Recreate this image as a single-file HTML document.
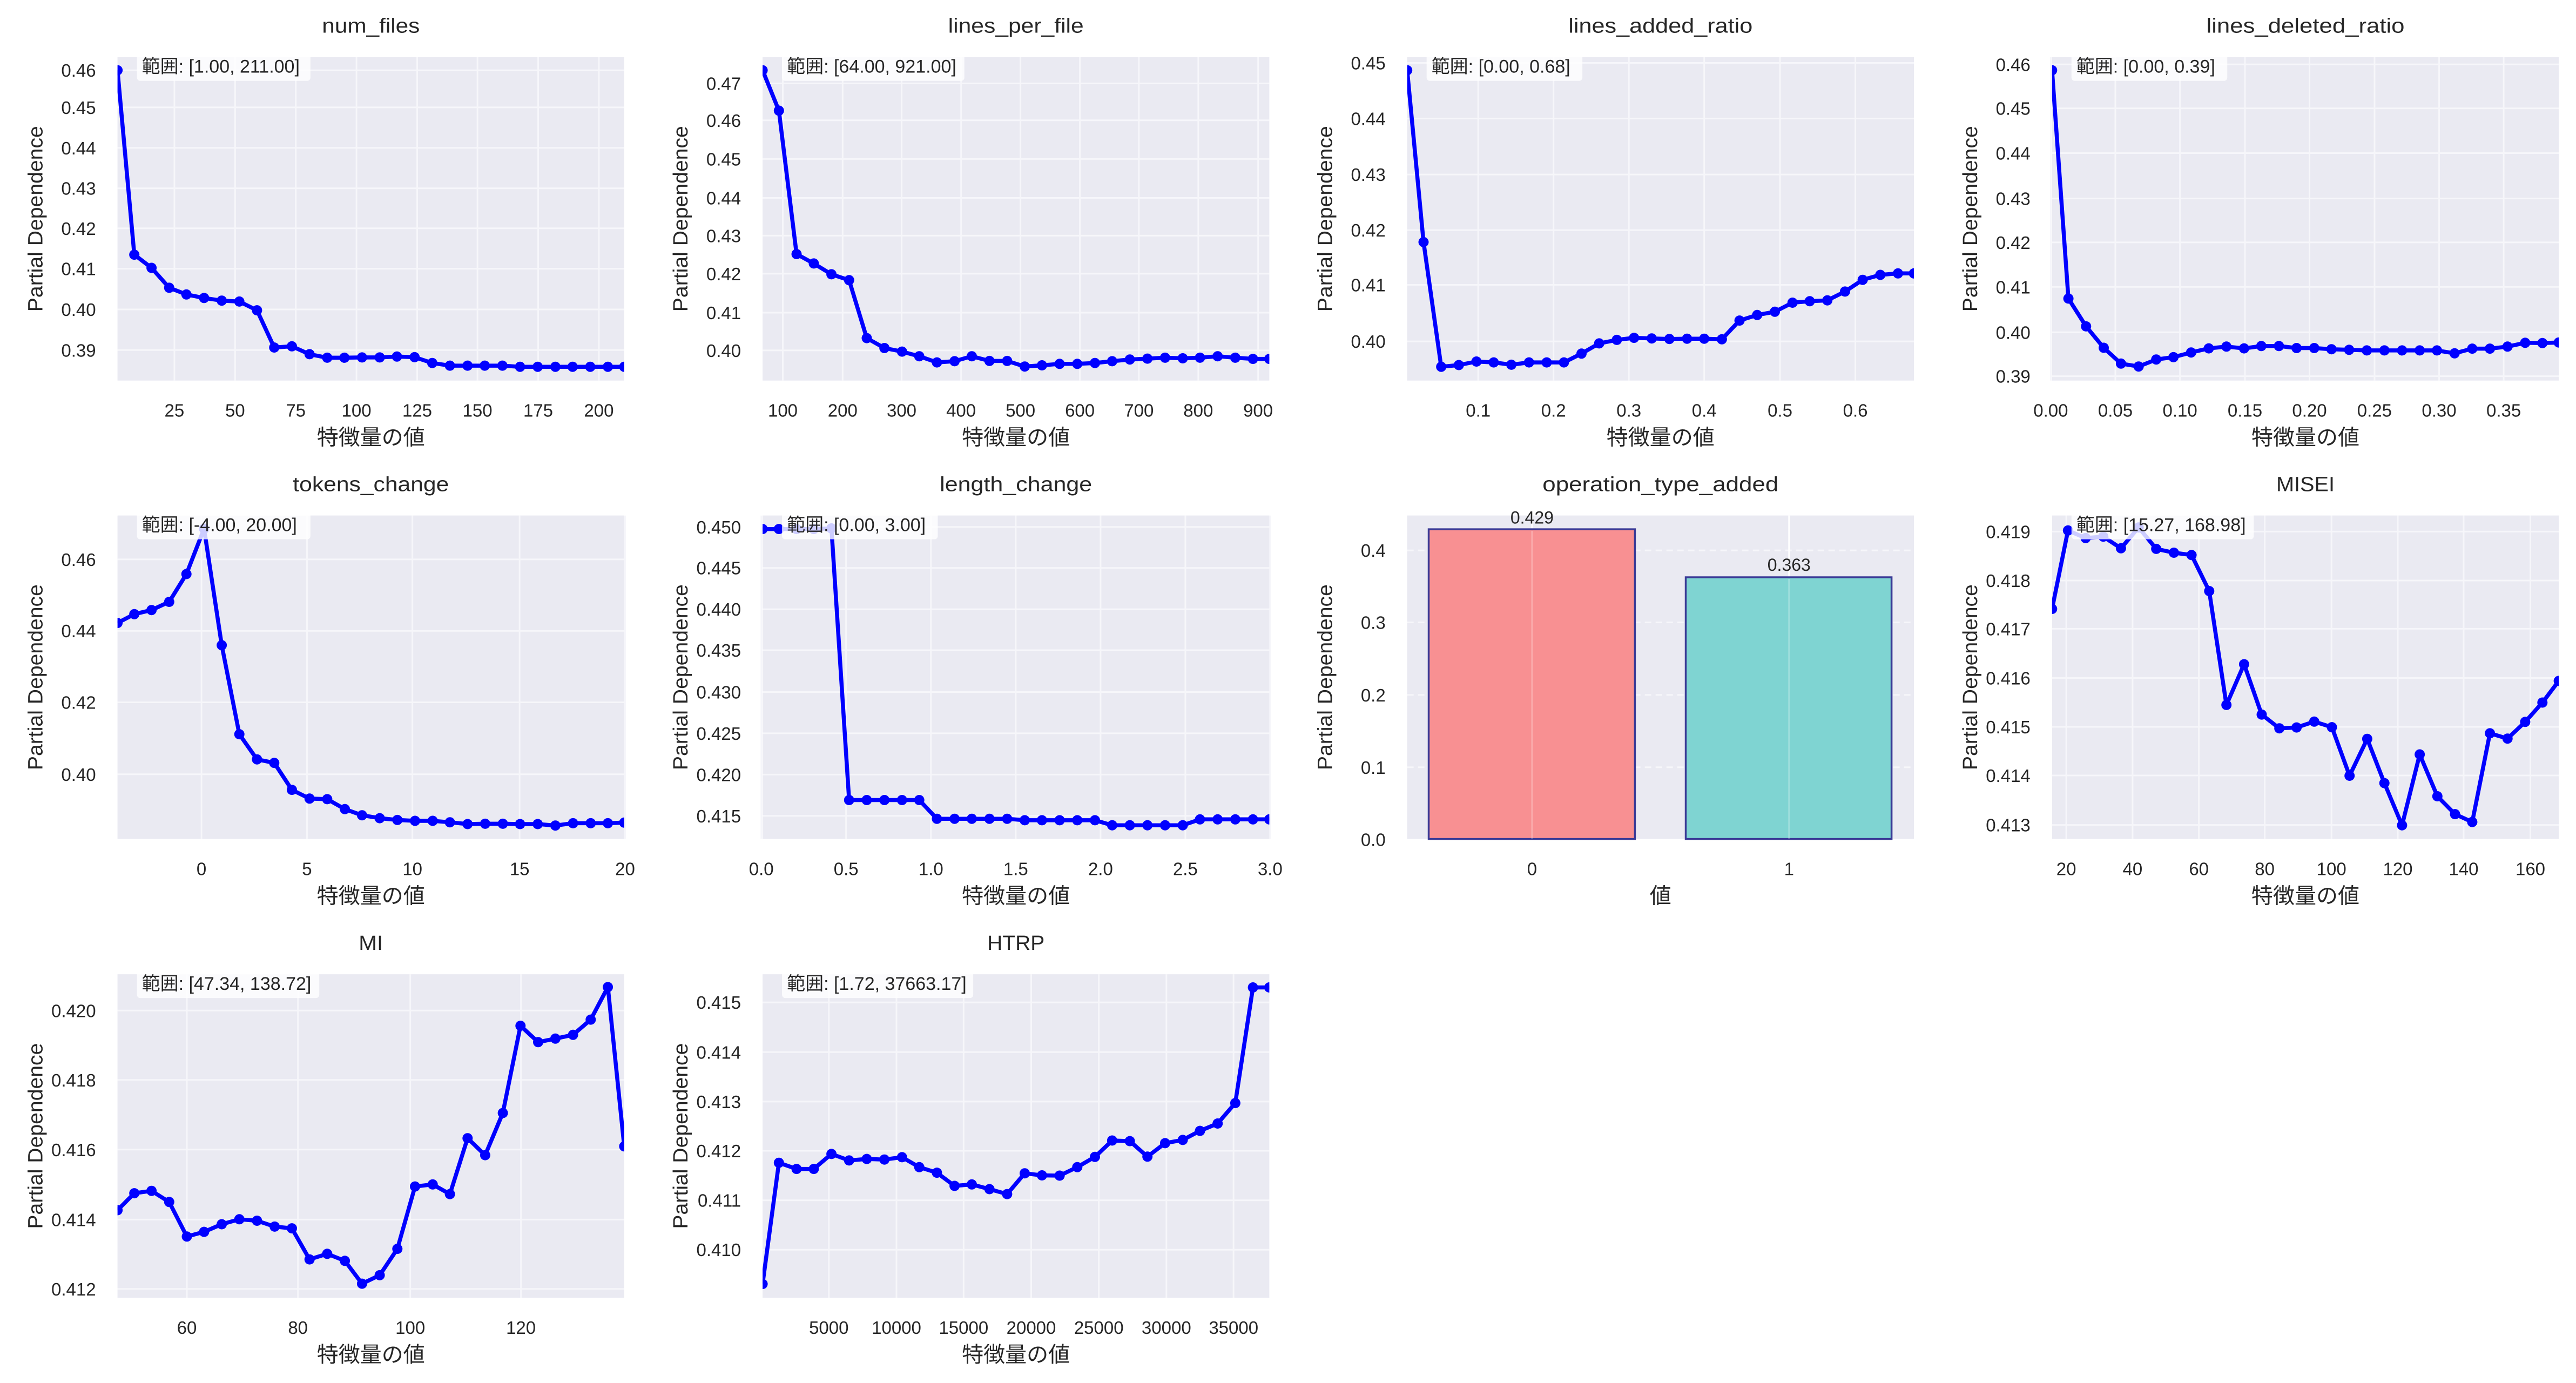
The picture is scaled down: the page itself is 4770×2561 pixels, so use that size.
<!DOCTYPE html>
<html><head><meta charset="utf-8">
<style>
html,body{margin:0;padding:0;background:#fff;}
svg{display:block;}
text{font-family:"Liberation Sans","Noto Sans CJK JP",sans-serif;fill:#262626;}
</style></head>
<body>
<svg id="s" xmlns="http://www.w3.org/2000/svg" width="4770" height="2561" viewBox="0 0 4770 2561"></svg>
<script>
const KX=1250/1568, KY=850/1568;
const P=[
{X0:0,Y0:0,box:[273,195,1450,1300],title:"num_files",tl:181,ann:"範囲: [1.00, 211.00]",
yt:[["0.46",240],["0.45",367],["0.44",505],["0.43",643],["0.42",780],["0.41",918],["0.40",1057],["0.39",1196]],
xt:[["25",405],["50",546],["75",687],["100",828],["125",969],["150",1109],["175",1250],["200",1391]],
pts:[[273,240],[312,870],[352,915],[393,983],[433,1006],[474,1018],[515,1027],[556,1030],[597,1060],[637,1187],[678,1183],[719,1210],[760,1222],[800,1222],[841,1221],[882,1221],[922,1218],[963,1220],[1004,1240],[1045,1249],[1086,1249],[1126,1249],[1167,1249],[1208,1253],[1249,1253],[1290,1253],[1330,1253],[1371,1253],[1412,1253],[1450,1253]]},
{X0:1200,Y0:0,box:[266,195,1443,1300],title:"lines_per_file",tl:251,ann:"範囲: [64.00, 921.00]",
yt:[["0.47",285],["0.46",411],["0.45",543],["0.44",676],["0.43",805],["0.42",935],["0.41",1068],["0.40",1197]],
xt:[["100",313],["200",452],["300",589],["400",727],["500",865],["600",1003],["700",1140],["800",1278],["900",1417]],
pts:[[266,240],[304,378],[345,868],[385,900],[426,937],[467,957],[508,1155],[549,1189],[590,1201],[630,1217],[671,1238],[712,1234],[752,1217],[793,1233],[834,1233],[875,1252],[915,1248],[956,1243],[997,1243],[1038,1240],[1078,1234],[1119,1228],[1160,1225],[1201,1222],[1242,1224],[1282,1222],[1323,1217],[1364,1222],[1405,1226],[1443,1226]]},
{X0:2400,Y0:0,box:[258,195,1435,1300],title:"lines_added_ratio",tl:341,ann:"範囲: [0.00, 0.68]",
yt:[["0.45",215],["0.44",405],["0.43",596],["0.42",786],["0.41",973],["0.40",1166]],
xt:[["0.1",423],["0.2",598],["0.3",773],["0.4",948],["0.5",1124],["0.6",1299]],
pts:[[258,240],[296,827],[337,1253],[378,1247],[419,1235],[459,1238],[500,1246],[541,1238],[582,1238],[622,1238],[663,1208],[704,1173],[745,1161],[785,1154],[826,1156],[867,1158],[908,1157],[948,1157],[989,1159],[1030,1095],[1071,1076],[1112,1065],[1153,1034],[1193,1029],[1234,1026],[1275,996],[1316,956],[1357,939],[1398,934],[1435,934]]},
{X0:3520,Y0:0,box:[351,195,1528,1300],title:"lines_deleted_ratio",tl:367,ann:"範囲: [0.00, 0.39]",
yt:[["0.46",220],["0.45",370],["0.44",523],["0.43",678],["0.42",828],["0.41",980],["0.40",1135],["0.39",1285]],
xt:[["0.00",348],["0.05",498],["0.10",648],["0.15",799],["0.20",949],["0.25",1100],["0.30",1250],["0.35",1400]],
pts:[[351,240],[389,1020],[430,1115],[471,1188],[511,1242],[552,1252],[593,1228],[633,1220],[674,1204],[715,1190],[756,1184],[797,1190],[837,1182],[878,1182],[919,1189],[960,1189],[1000,1193],[1041,1195],[1082,1197],[1123,1197],[1164,1197],[1205,1197],[1245,1197],[1286,1207],[1327,1191],[1368,1191],[1409,1184],[1450,1171],[1490,1172],[1528,1170]]},
{X0:0,Y0:850,box:[273,193,1450,1298],title:"tokens_change",tl:289,ann:"範囲: [-4.00, 20.00]",
yt:[["0.46",343],["0.44",587],["0.42",831],["0.40",1077]],
xt:[["0",468],["5",713],["10",958],["15",1207],["20",1452]],
pts:[[273,560],[312,530],[352,516],[393,488],[433,393],[474,238],[515,636],[556,940],[597,1026],[637,1038],[678,1130],[719,1160],[760,1162],[801,1196],[841,1217],[882,1227],[923,1233],[964,1236],[1005,1236],[1045,1241],[1086,1247],[1127,1246],[1168,1246],[1208,1247],[1249,1247],[1290,1252],[1331,1244],[1372,1244],[1412,1244],[1450,1242]]},
{X0:1200,Y0:850,box:[266,193,1443,1298],title:"length_change",tl:282,ann:"範囲: [0.00, 3.00]",
yt:[["0.450",232],["0.445",372],["0.440",513],["0.435",653],["0.430",796],["0.425",937],["0.420",1078],["0.415",1219]],
xt:[["0.0",263],["0.5",460],["1.0",657],["1.5",854],["2.0",1051],["2.5",1248],["3.0",1445]],
pts:[[266,239],[304,239],[345,239],[385,239],[426,237],[467,1165],[508,1165],[549,1165],[590,1165],[630,1165],[671,1229],[712,1229],[752,1229],[793,1229],[834,1229],[875,1234],[915,1234],[956,1234],[997,1234],[1038,1234],[1078,1251],[1119,1251],[1160,1251],[1201,1251],[1242,1251],[1282,1231],[1323,1231],[1364,1231],[1405,1231],[1443,1231]]},
{X0:2400,Y0:850,box:[258,193,1435,1298],title:"operation_type_added",tl:437,bar:true,xlabel:"値",
yt:[["0.4",312],["0.3",558],["0.2",806],["0.1",1053],["0.0",1300]],
xt:[["0",548],["1",1145]]},
{X0:3520,Y0:850,box:[351,193,1528,1298],title:"MISEI",tl:108,ann:"範囲: [15.27, 168.98]",
yt:[["0.419",248],["0.418",415],["0.417",580],["0.416",748],["0.415",915],["0.414",1081],["0.413",1250]],
xt:[["20",384],["40",538],["60",692],["80",845],["100",1000],["120",1154],["140",1307],["160",1462]],
pts:[[351,512],[388,244],[429,270],[470,265],[511,305],[552,234],[593,307],[634,320],[675,328],[716,451],[756,840],[797,701],[838,873],[879,920],[919,917],[960,897],[1001,916],[1042,1082],[1083,956],[1123,1107],[1164,1251],[1205,1009],[1246,1152],[1287,1213],[1327,1240],[1368,937],[1409,955],[1450,898],[1490,832],[1528,758]]},
{X0:0,Y0:1700,box:[273,192,1450,1297],title:"MI",tl:45,ann:"範囲: [47.34, 138.72]",
yt:[["0.420",316],["0.418",553],["0.416",791],["0.414",1030],["0.412",1267]],
xt:[["60",434],["80",692],["100",953],["120",1210]],
pts:[[273,998],[312,940],[352,932],[393,970],[434,1088],[474,1072],[515,1046],[556,1029],[597,1034],[638,1054],[678,1060],[719,1166],[760,1147],[801,1171],[841,1249],[882,1220],[923,1130],[964,917],[1005,910],[1045,943],[1086,752],[1127,810],[1168,666],[1209,368],[1250,424],[1290,412],[1331,399],[1372,347],[1412,236],[1450,780]]},
{X0:1200,Y0:1700,box:[266,192,1443,1297],title:"HTRP",tl:106,ann:"範囲: [1.72, 37663.17]",
yt:[["0.415",288],["0.414",458],["0.413",627],["0.412",795],["0.411",964],["0.410",1133]],
xt:[["5000",420],["10000",577],["15000",733],["20000",890],["25000",1047],["30000",1204],["35000",1360]],
pts:[[266,1250],[304,836],[345,857],[385,857],[426,806],[467,828],[508,823],[549,825],[590,817],[630,851],[671,870],[712,915],[752,910],[793,926],[834,943],[875,872],[915,879],[956,880],[997,851],[1038,816],[1078,760],[1119,762],[1160,815],[1201,769],[1242,758],[1282,727],[1323,702],[1364,632],[1405,237],[1443,237]]}
];
let o='';
const f=v=>v.toFixed(1);
P.forEach((p,i)=>{
 const X=zx=>p.X0+zx*KX, Y=zy=>p.Y0+zy*KY;
 const l=X(p.box[0]),t=Y(p.box[1]),r=X(p.box[2]),b=Y(p.box[3]);
 const cx=(l+r)/2, cy=(t+b)/2;
 o+=`<defs><clipPath id="c${i}"><rect x="${f(l)}" y="${f(t)}" width="${f(r-l)}" height="${f(b-t)}"/></clipPath></defs>`;
 o+=`<rect x="${f(l)}" y="${f(t)}" width="${f(r-l)}" height="${f(b-t)}" fill="#eaeaf2"/>`;
 p.yt.forEach(([s,zy])=>{const y=Y(zy);
  if(y>=t-1&&y<=b+1) o+=`<line x1="${f(l)}" x2="${f(r)}" y1="${f(y)}" y2="${f(y)}" stroke="#f6f6fa" stroke-width="3" ${p.bar?'stroke-dasharray="12,8"':''}/>`;
  o+=`<text x="${f(l-40)}" y="${f(y+12)}" font-size="33" text-anchor="end">${s}</text>`;});
 p.xt.forEach(([s,zx])=>{const x=X(zx);
  o+=`<line x1="${f(x)}" x2="${f(x)}" y1="${f(t)}" y2="${f(b)}" stroke="${p.bar?'#ffffff':'#f6f6fa'}" stroke-width="3"/>`;
  o+=`<text x="${f(x)}" y="${f(b+67)}" font-size="33" text-anchor="middle">${s}</text>`;});
 o+=`<text x="${f(cx)}" y="${f(t-45)}" font-size="38" text-anchor="middle" textLength="${p.tl}" lengthAdjust="spacingAndGlyphs">${p.title}</text>`;
 o+=`<text x="${f(cx)}" y="${f(b+119)}" font-size="40" text-anchor="middle">${p.xlabel||'特徴量の値'}</text>`;
 const yx=l-152;
 o+=`<text transform="translate(${f(yx+13)},${f(cy)}) rotate(-90)" x="0" y="0" font-size="38" text-anchor="middle" textLength="344" lengthAdjust="spacingAndGlyphs">Partial Dependence</text>`;
 if(p.bar){
  const bars=[[308,787,240,"#f89092","0.429",548,200],[905,1383,404,"#7fd4d2","0.363",1145,362]];
  bars.forEach(([a,c,tp,col,lab,lx,ly])=>{
   o+=`<rect x="${f(X(a))}" y="${f(Y(tp))}" width="${f(X(c)-X(a))}" height="${f(b-Y(tp))}" fill="${col}" stroke="#3a3a96" stroke-width="3.5"/>`;
   o+=`<line x1="${f(X(lx))}" x2="${f(X(lx))}" y1="${f(Y(tp)+3)}" y2="${f(b)}" stroke="#ffffff" stroke-opacity="0.25" stroke-width="3"/>`;
   o+=`<text x="${f(X(lx))}" y="${f(Y(ly)+11)}" font-size="32" text-anchor="middle">${lab}</text>`;});
 } else {
  const pts=p.pts.map(([a,c])=>f(X(a))+','+f(Y(c))).join(' ');
  o+=`<g clip-path="url(#c${i})"><polyline points="${pts}" fill="none" stroke="#0000ff" stroke-width="7.5" stroke-linejoin="round"/>`;
  p.pts.forEach(([a,c])=>{o+=`<circle cx="${f(X(a))}" cy="${f(Y(c))}" r="9.5" fill="#0000ff"/>`;});
  o+=`</g>`;
  const w=p.ann.length*16.4+26;
  o+=`<rect x="${f(l+36)}" y="${f(t-6)}" width="${f(w)}" height="${f(50)}" rx="6" fill="#ffffff" fill-opacity="0.8"/>`;
  o+=`<text x="${f(l+45)}" y="${f(t+29)}" font-size="34">${p.ann}</text>`;
 }
});
document.getElementById('s').innerHTML=o;
</script>
</body></html>
